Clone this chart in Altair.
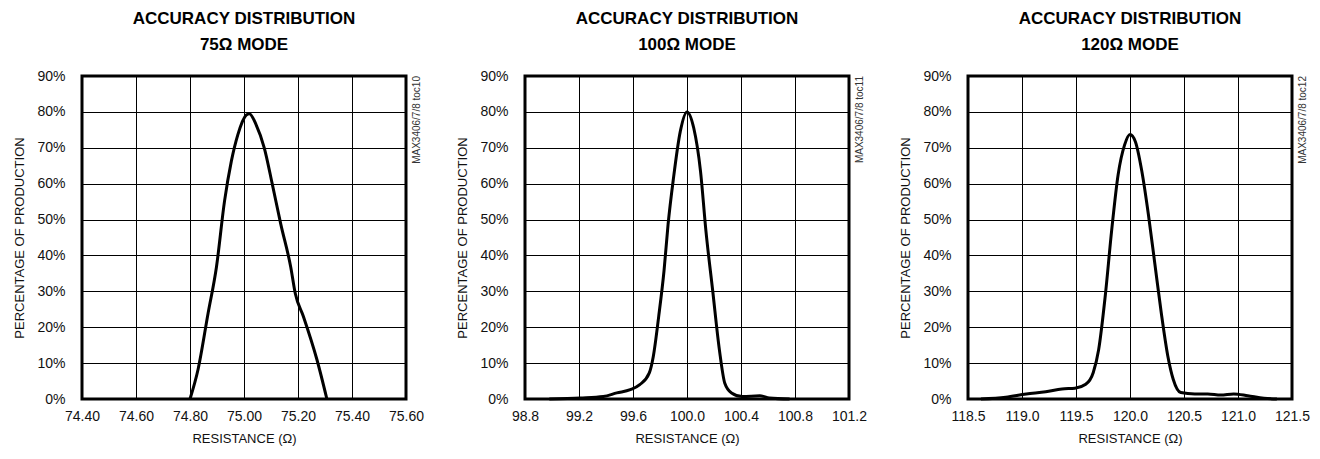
import altair as alt
import pandas as pd

# ---- data ----
x75 = [74.80, 74.83, 74.867, 74.898, 74.928, 74.953, 74.977, 75.008, 75.02, 75.045, 75.075, 75.105, 75.136, 75.173, 75.19, 75.22, 75.27, 75.307]
y75 = [0.0, 8.3, 23.9, 36.8, 55.2, 66.2, 73.6, 79.1, 79.5, 76.4, 70.0, 59.8, 48.8, 36.8, 29.4, 23.0, 11.0, 0.0]

x100 = [98.98, 99.21, 99.38, 99.48, 99.58, 99.65, 99.72, 99.75, 99.79, 99.83, 99.86, 99.90, 99.95, 100.0, 100.05, 100.10, 100.14, 100.19, 100.24, 100.28, 100.33, 100.41, 100.54, 100.61, 100.76]
y100 = [0.0, 0.3, 0.7, 1.7, 2.6, 4.0, 7.2, 11.8, 22.9, 35.8, 48.7, 61.6, 74.5, 80.0, 75.5, 63.5, 46.9, 30.3, 13.7, 4.4, 1.7, 0.7, 0.9, 0.3, 0.0]

x120 = [118.62, 118.85, 119.04, 119.22, 119.37, 119.49, 119.59, 119.66, 119.71, 119.77, 119.83, 119.89, 119.95, 120.0, 120.05, 120.11, 120.17, 120.23, 120.29, 120.35, 120.40, 120.47, 120.60, 120.72, 120.84, 120.96, 121.09, 121.24, 121.36]
y120 = [0.0, 0.5, 1.4, 2.0, 2.8, 3.0, 4.1, 7.4, 13.8, 28.5, 46.9, 62.5, 70.8, 73.7, 71.7, 63.4, 51.5, 37.7, 23.9, 12.0, 5.5, 1.8, 1.4, 1.4, 1.1, 1.4, 0.9, 0.2, 0.0]

ticks75 = [74.4, 74.6, 74.8, 75.0, 75.2, 75.4, 75.6]
ticks100 = [98.8, 99.2, 99.6, 100.0, 100.4, 100.8, 101.2]
ticks120 = [118.5, 119.0, 119.5, 120.0, 120.5, 121.0, 121.5]
y_ticks = [0, 10, 20, 30, 40, 50, 60, 70, 80, 90]

titles = [["ACCURACY DISTRIBUTION", "75\u03a9 MODE"],
          ["ACCURACY DISTRIBUTION", "100\u03a9 MODE"],
          ["ACCURACY DISTRIBUTION", "120\u03a9 MODE"]]
side_labels = ["MAX3406/7/8 toc10", "MAX3406/7/8 toc11", "MAX3406/7/8 toc12"]
fmts = [".2f", ".1f", ".1f"]

LABEL_FONT = "Liberation Sans"
TITLE_FONT = "Liberation Sans Narrow, Arial Narrow, Liberation Sans"


def panel(xs, ys, ticks, title, side, fmt):
    df = pd.DataFrame({"x": xs, "y": ys})
    xscale = alt.Scale(domain=[ticks[0], ticks[-1]], nice=False, zero=False)
    yscale = alt.Scale(domain=[0, 90], nice=False)
    xaxis = alt.Axis(values=ticks, format=fmt, title="RESISTANCE (\u03a9)",
                     grid=True, gridColor="black", gridWidth=1, gridOpacity=1,
                     ticks=False, domain=False, labelPadding=10, labelFlush=False,
                     labelFontSize=14, labelFont=LABEL_FONT, labelColor="#111111",
                     labelOverlap=False,
                     titleFontSize=13, titleFont=LABEL_FONT, titleFontWeight="normal",
                     titleColor="#111111", titlePadding=9)
    yaxis = alt.Axis(values=y_ticks, labelExpr="datum.value + '%'",
                     title="PERCENTAGE OF PRODUCTION",
                     grid=True, gridColor="black", gridWidth=1, gridOpacity=1,
                     ticks=False, domain=False, labelPadding=17, labelFlush=False,
                     labelFontSize=14, labelFont=LABEL_FONT, labelColor="#111111",
                     labelOverlap=False,
                     titleFontSize=13, titleFont=LABEL_FONT, titleFontWeight="normal",
                     titleColor="#111111", titlePadding=10)
    line = alt.Chart(df).mark_line(color="black", strokeWidth=3, interpolate="monotone").encode(
        x=alt.X("x:Q", scale=xscale, axis=xaxis),
        y=alt.Y("y:Q", scale=yscale, axis=yaxis),
    )
    sdf = pd.DataFrame({"x": [ticks[-1]], "y": [90], "t": [side]})
    side_txt = alt.Chart(sdf).mark_text(angle=270, align="right", baseline="top", dy=6,
                                        fontSize=10, font=LABEL_FONT, color="#333333").encode(
        x=alt.X("x:Q", scale=xscale, axis=xaxis),
        y=alt.Y("y:Q", scale=yscale, axis=yaxis),
        text="t:N")
    return alt.layer(line, side_txt).properties(
        width=324, height=323,
        title=alt.TitleParams(text=title, font=TITLE_FONT, fontSize=17, fontWeight="bold",
                              color="black", lineHeight=26, offset=15, anchor="middle"),
    )


chart = alt.hconcat(
    panel(x75, y75, ticks75, titles[0], side_labels[0], fmts[0]),
    panel(x100, y100, ticks100, titles[1], side_labels[1], fmts[1]),
    panel(x120, y120, ticks120, titles[2], side_labels[2], fmts[2]),
    spacing=119, bounds="flush",
    padding={"left": 4, "right": 0, "top": 0, "bottom": 0},
).configure(background="white").configure_view(stroke="black", strokeWidth=3)

chart.save("out.html", embed_options={"renderer": "svg", "actions": False})
